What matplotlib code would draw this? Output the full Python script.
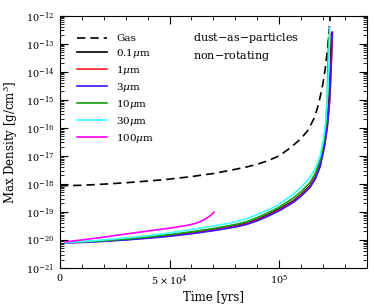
import matplotlib
matplotlib.use("Agg")
import matplotlib.pyplot as plt
from matplotlib.ticker import FixedLocator, MultipleLocator, NullFormatter, FuncFormatter

plt.rcParams['font.family'] = 'DejaVu Serif'
plt.rcParams['mathtext.fontset'] = 'dejavuserif'

# time in units of 1e4 yrs, log10 of max density in g/cm^3
gas_t = [0, 1, 2, 3, 4, 5, 6, 7, 8, 8.5, 9, 9.5, 10, 10.5, 11, 11.3, 11.6, 11.8, 12.0, 12.1, 12.2, 12.27, 12.33]
gas_logrho = [-18.07, -18.05, -18.01, -17.96, -17.9, -17.83, -17.74, -17.63, -17.48, -17.4, -17.3, -17.17,
              -17.0, -16.72, -16.38, -16.1, -15.65, -15.15, -14.4, -13.9, -13.2, -12.6, -12.0]

d01_t = [0.25, 1, 2, 3, 4, 5, 6, 7, 8, 8.5, 9, 9.5, 10, 10.65, 11, 11.4, 11.65, 11.87, 12.05, 12.17, 12.27, 12.34, 12.39]
d01_logrho = [-20.09, -20.07, -20.03, -19.98, -19.91, -19.83, -19.74, -19.63, -19.5, -19.41, -19.27, -19.1,
              -18.9, -18.6, -18.38, -18.07, -17.75, -17.3, -16.6, -15.9, -15.0, -13.8, -12.6]

d1_t = [0.25, 1, 2, 3, 4, 5, 6, 7, 8, 8.5, 9, 9.5, 10, 10.65, 11, 11.4, 11.65, 11.87, 12.07, 12.2, 12.3, 12.37, 12.43]
d1_logrho = [-20.1, -20.08, -20.04, -19.99, -19.93, -19.85, -19.76, -19.65, -19.52, -19.43, -19.3, -19.13,
             -18.93, -18.63, -18.41, -18.1, -17.79, -17.35, -16.6, -15.9, -15.0, -13.8, -12.58]

d3_t = [0.25, 1, 2, 3, 4, 5, 6, 7, 8, 8.5, 9, 9.5, 10, 10.65, 11, 11.4, 11.65, 11.87, 12.07, 12.2, 12.3, 12.37, 12.42]
d3_logrho = [-20.11, -20.09, -20.05, -20.0, -19.94, -19.87, -19.78, -19.67, -19.54, -19.45, -19.32, -19.15,
             -18.96, -18.66, -18.44, -18.13, -17.82, -17.38, -16.65, -15.95, -15.05, -13.85, -12.62]

d10_t = [0.25, 1, 2, 3, 4, 5, 6, 7, 8, 8.5, 9, 9.5, 10, 10.65, 11, 11.4, 11.65, 11.87, 12.03, 12.13, 12.19, 12.23, 12.25]
d10_logrho = [-20.09, -20.07, -20.03, -19.97, -19.9, -19.81, -19.71, -19.59, -19.45, -19.35, -19.2, -19.03,
              -18.83, -18.5, -18.28, -17.96, -17.62, -17.15, -16.5, -15.85, -14.9, -13.8, -12.78]

d30_t = [0.25, 1, 2, 3, 4, 5, 6, 7, 7.76, 8.5, 9.13, 9.5, 10, 10.65, 11, 11.4, 11.65, 11.87, 12.02, 12.12, 12.2, 12.26, 12.3]
d30_logrho = [-20.1, -20.06, -20.0, -19.93, -19.85, -19.75, -19.63, -19.5, -19.4, -19.25, -19.05, -18.93,
              -18.73, -18.36, -18.12, -17.77, -17.45, -17.0, -16.4, -15.8, -14.9, -13.8, -12.42]

d100_t = [0.25, 1, 2, 3, 3.65, 4.5, 5.0, 5.5, 5.94, 6.3, 6.6, 6.85, 7.03]
d100_logrho = [-20.07, -20.0, -19.9, -19.79, -19.72, -19.63, -19.58, -19.52, -19.46, -19.38, -19.27, -19.14, -19.01]

y_decades = [-21, -20, -19, -18, -17, -16, -15, -14, -13, -12]

series = [
    ("0.1$\\mu$m", d01_t, d01_logrho, "black"),
    ("1$\\mu$m", d1_t, d1_logrho, "#ff2020"),
    ("3$\\mu$m", d3_t, d3_logrho, "#4010ff"),
    ("10$\\mu$m", d10_t, d10_logrho, "#10a010"),
    ("30$\\mu$m", d30_t, d30_logrho, "#40ffff"),
    ("100$\\mu$m", d100_t, d100_logrho, "#ff00ff"),
]

fig = plt.figure(figsize=(3.74, 3.08), dpi=100)
ax = fig.add_axes([0.160, 0.130, 0.821, 0.819])

ax.plot([t * 1e4 for t in gas_t], [10**v for v in gas_logrho], color="black",
        ls=(0, (5, 3)), lw=1.2, label="Gas")
for lab, t, lr, c in series:
    ax.plot([x * 1e4 for x in t], [10**v for v in lr], color=c, lw=1.2, label=lab)

ax.set_yscale("log")
ax.set_xlim(0, 1.4e5)
ax.set_ylim(1e-21, 1e-12)

ax.xaxis.set_major_locator(FixedLocator([0, 5e4, 1e5]))
ax.xaxis.set_minor_locator(MultipleLocator(1e4))

def xfmt(v, pos):
    if v == 0:
        return "0"
    if abs(v - 5e4) < 1:
        return "$5\\times10^{4}$"
    if abs(v - 1e5) < 1:
        return "$10^{5}$"
    return ""
ax.xaxis.set_major_formatter(FuncFormatter(xfmt))

ax.yaxis.set_major_locator(FixedLocator([10.0**d for d in y_decades]))
ax.yaxis.set_major_formatter(FuncFormatter(lambda v, p: "$10^{%d}$" % round(__import__("math").log10(v))))
ax.yaxis.set_minor_locator(FixedLocator([k * 10.0**d for d in y_decades[:-1] for k in range(2, 10)]))
ax.yaxis.set_minor_formatter(NullFormatter())

ax.tick_params(which="both", direction="in", top=True, right=True, labelsize=7)
ax.tick_params(which="major", length=6, width=0.8)
ax.tick_params(which="minor", length=3, width=0.6)
ax.tick_params(axis="x", which="major", pad=4)
ax.tick_params(axis="y", which="major", pad=4)

ax.set_xlabel("Time [yrs]", fontsize=8.5, labelpad=2)
ax.set_ylabel("Max Density [g/cm$^3$]", fontsize=8.5, labelpad=4)

leg = ax.legend(loc="upper left", frameon=False, fontsize=7.5, handlelength=2.9,
                handletextpad=0.9, labelspacing=0.38, borderaxespad=0.0,
                borderpad=0.0, bbox_to_anchor=(0.055, 0.928))

ax.text(0.433, 0.91, "dust$-$as$-$particles", transform=ax.transAxes, fontsize=8, va="center")
ax.text(0.433, 0.842, "non$-$rotating", transform=ax.transAxes, fontsize=8, va="center")

fig.savefig("out.png", dpi=100)
